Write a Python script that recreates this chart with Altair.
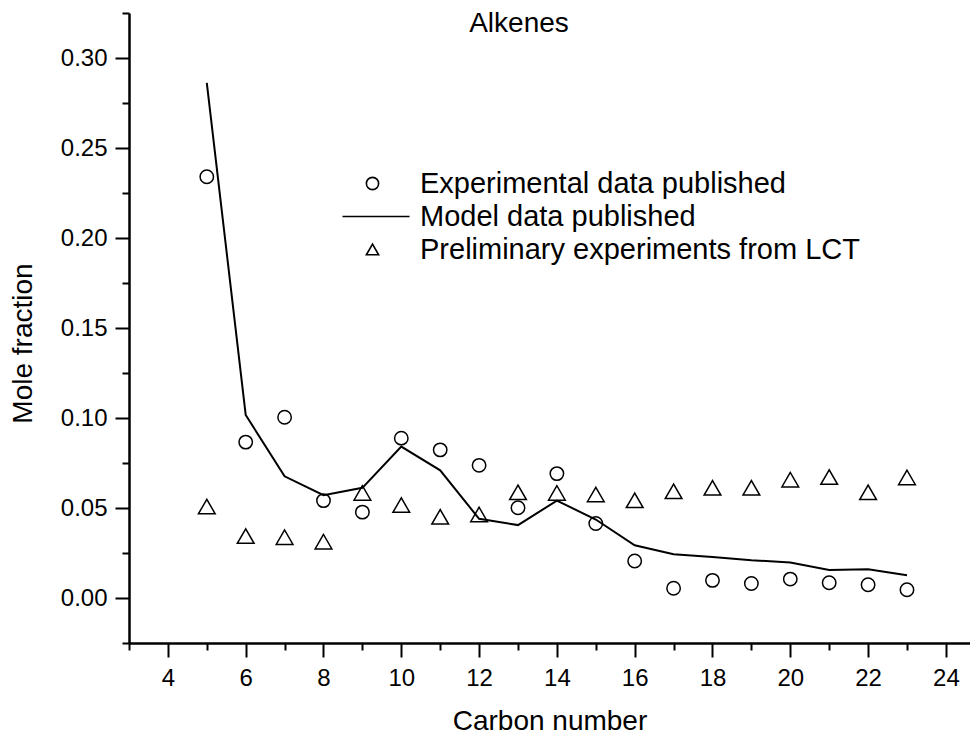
import altair as alt
import pandas as pd

carbon = list(range(5, 24))
exp_published = [0.234, 0.0866, 0.1004, 0.0541, 0.0477, 0.0888, 0.0823, 0.0737, 0.0501, 0.0691,
                 0.0414, 0.0206, 0.0054, 0.0098, 0.0081, 0.0105, 0.0085, 0.0074, 0.0046]
model_published = [0.2862, 0.1017, 0.0676, 0.0571, 0.0612, 0.0841, 0.0709, 0.0440, 0.0405, 0.0541,
                   0.0436, 0.0293, 0.0243, 0.0228, 0.0210, 0.0197, 0.0156, 0.0160, 0.0127]
prelim_lct = [0.0508, 0.0344, 0.0338, 0.0313, 0.0584, 0.0516, 0.0451, 0.0464, 0.0587, 0.0584,
              0.0575, 0.0543, 0.0593, 0.0612, 0.0612, 0.0657, 0.0672, 0.0587, 0.0670]

series_names = ["Experimental data published", "Model data published", "Preliminary experiments from LCT"]
chart_title = ["Alkenes"]
x_ticks = list(range(3, 25))
y_ticks = [round(-0.025 + 0.025 * i, 3) for i in range(15)]

circles = pd.DataFrame({"carbon": carbon, "value": exp_published, "series": series_names[0]})
model = pd.DataFrame({"carbon": carbon, "value": model_published, "series": series_names[1]})
triangles = pd.DataFrame({"carbon": carbon, "value": prelim_lct, "series": series_names[2]})
title_df = pd.DataFrame({"label": chart_title})

FONT = "Liberation Sans"

x_scale = alt.Scale(domain=[3, 24.62], nice=False, zero=False)
y_scale = alt.Scale(domain=[-0.025, 0.325], nice=False, zero=False)

common_axis = dict(
    grid=False,
    domainColor="black", domainWidth=2.5,
    tickColor="black", tickWidth=2,
    labelColor="black", titleColor="black",
    labelFont=FONT, titleFont=FONT,
    labelFontSize=24, titleFontSize=28,
    titleFontWeight="normal",
    titleBaseline="middle",
)

x_axis = alt.Axis(
    values=x_ticks,
    labelExpr="datum.value % 2 == 0 ? datum.label : ''",
    tickSize={"condition": {"test": "datum.value % 2 == 0", "value": 14}, "value": 7},
    title="Carbon number",
    labelPadding=9,
    titleY=78,
    **common_axis,
)
y_axis = alt.Axis(
    values=y_ticks,
    labelExpr="round(datum.value * 1000) % 50 == 0 ? format(datum.value, '.2f') : ''",
    tickSize={"condition": {"test": "round(datum.value * 1000) % 50 == 0", "value": 14}, "value": 7},
    title="Mole fraction",
    labelPadding=8,
    titleX=-106,
    titleY=330,
    **common_axis,
)

shape_scale = alt.Scale(domain=series_names, range=["circle", "M-4.9,0L6.05,0", "triangle-up"])
legend = alt.Legend(
    title=None,
    orient="none",
    legendX=229,
    legendY=156,
    labelFontSize=29,
    labelFont=FONT,
    labelColor="black",
    labelLimit=0,
    labelOffset=33,
    symbolSize=150,
    symbolStrokeWidth=1.6,
    symbolStrokeColor="black",
    symbolFillColor="transparent",
    rowPadding=3,
    padding=0,
)

base_x = alt.X("carbon:Q", scale=x_scale, axis=x_axis)
base_y = alt.Y("value:Q", scale=y_scale, axis=y_axis)

line = alt.Chart(model).mark_line(color="black", strokeWidth=2).encode(x=base_x, y=base_y)

pts_c = alt.Chart(circles).mark_point(filled=False, color="black", size=180, strokeWidth=1.5, opacity=1).encode(
    x=base_x, y=base_y,
    shape=alt.Shape("series:N", scale=shape_scale, legend=legend),
)
pts_t = alt.Chart(triangles).mark_point(filled=False, color="black", size=280, strokeWidth=1.5, opacity=1).encode(
    x=base_x, y=base_y,
    shape=alt.Shape("series:N", scale=shape_scale, legend=legend),
)

title_text = alt.Chart(title_df).mark_text(
    font=FONT, fontSize=28, color="black", align="center", baseline="alphabetic"
).encode(text="label:N", x=alt.value(390), y=alt.value(19))

chart = alt.layer(line, pts_c, pts_t, title_text).properties(
    width=841,
    height=630,
    background="white",
    autosize=alt.AutoSizeParams(type="none"),
    padding={"left": 121, "top": 5, "right": 0, "bottom": 95},
).configure_view(stroke=None)

chart.save("out.html", embed_options={"renderer": "svg", "actions": False})
